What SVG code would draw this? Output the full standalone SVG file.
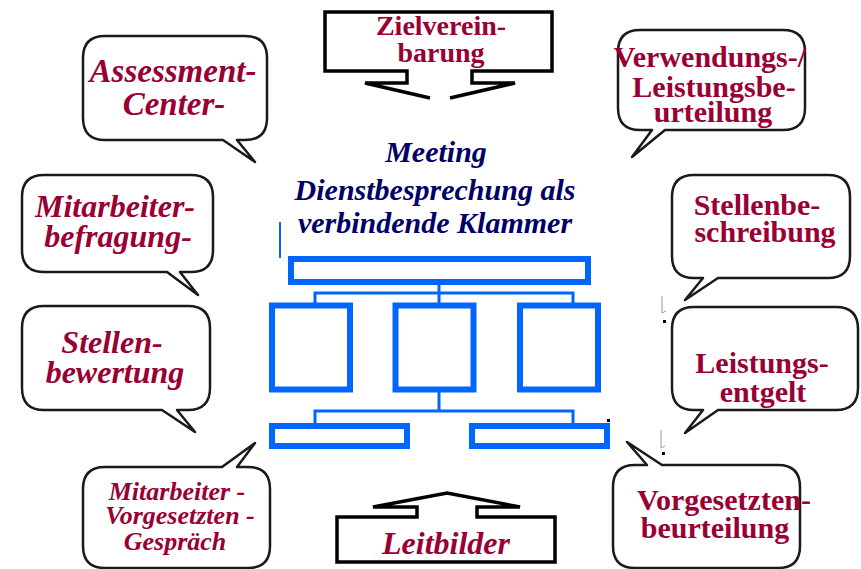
<svg xmlns="http://www.w3.org/2000/svg" width="861" height="569" viewBox="0 0 861 569">
<style>
.bub{fill:#fff;stroke:#1a1a1a;stroke-width:2.5;stroke-linejoin:round}
.arr{fill:#fff;stroke:#000;stroke-width:3.5;stroke-linejoin:miter}
.t{font-family:"Liberation Serif","Times New Roman",serif;font-weight:bold;fill:#990033;text-anchor:middle}
.i{font-style:italic}
.m{font-family:"Liberation Serif","Times New Roman",serif;font-weight:bold;font-style:italic;fill:#000066;text-anchor:middle;font-size:30px}
.org{fill:none;stroke:#0066ff;stroke-width:6}
.con{fill:none;stroke:#0066ff;stroke-width:3}
</style>
<rect width="861" height="569" fill="#fff"/>

<g id="zielvereinbarung">
<path d="M365,83 H407 V71 H325 V12 H552 V71 H472 V83 H515 L450,98 H430 Z" fill="#fff" stroke="none"/>
<polyline class="arr" points="430,98 365,83 407,83 407,71 325,71 325,12 552,12 552,71 472,71 472,83 515,83 450,98"/>
<text class="t" x="441" y="35" font-size="28">Zielverein-</text>
<text class="t" x="441" y="62" font-size="28">barung</text>
</g>

<g id="assessment">
<path class="bub" d="M105,36 H245 Q267,36 267,58 V118 Q267,140 245,140 H237 L255,162 L223,140 H105 Q83,140 83,118 V58 Q83,36 105,36 Z"/>
<text class="t i" x="173" y="82" font-size="33">Assessment-</text>
<text class="t i" x="174" y="115" font-size="33">Center-</text>
</g>

<g id="verwendung">
<path class="bub" d="M640,30 H783 Q805,30 805,52 V108 Q805,130 783,130 H665 L632,157 L652,130 H640 Q618,130 618,108 V52 Q618,30 640,30 Z"/>
<text class="t" x="710" y="67" font-size="30">Verwendungs-/</text>
<text class="t" x="714" y="97" font-size="30">Leistungsbe-</text>
<text class="t" x="713" y="122" font-size="30">urteilung</text>
</g>

<g id="mitarbeiterbefragung">
<path class="bub" d="M44,175 H191 Q213,175 213,197 V250 Q213,272 191,272 H180 L198,295 L167,272 H44 Q22,272 22,250 V197 Q22,175 44,175 Z"/>
<text class="t i" x="115" y="217" font-size="32">Mitarbeiter-</text>
<text class="t i" x="118" y="247" font-size="32">befragung-</text>
</g>

<g id="stellenbeschreibung">
<path class="bub" d="M694,175 H828 Q850,175 850,197 V256 Q850,278 828,278 H718 L685,300 L703,278 H694 Q672,278 672,256 V197 Q672,175 694,175 Z"/>
<text class="t" x="757" y="215" font-size="30">Stellenbe-</text>
<text class="t" x="765" y="242" font-size="30">schreibung</text>
</g>

<g id="stellenbewertung">
<path class="bub" d="M44,306 H188 Q210,306 210,328 V388 Q210,410 188,410 H177 L195,432 L162,410 H44 Q22,410 22,388 V328 Q22,306 44,306 Z"/>
<text class="t i" x="112" y="353" font-size="32">Stellen-</text>
<text class="t i" x="115" y="383" font-size="32">bewertung</text>
</g>

<g id="leistungsentgelt">
<path class="bub" d="M694,307 H836 Q858,307 858,329 V388 Q858,410 836,410 H718 L685,433 L703,410 H694 Q672,410 672,388 V329 Q672,307 694,307 Z"/>
<text class="t" x="762" y="373" font-size="30">Leistungs-</text>
<text class="t" x="763" y="402" font-size="30">entgelt</text>
</g>

<g id="mitarbeitergespraech">
<path class="bub" d="M105,467 H222 L255,443 L237,467 H248 Q270,467 270,489 V546 Q270,568 248,568 H105 Q83,568 83,546 V489 Q83,467 105,467 Z"/>
<text class="t i" x="177" y="500" font-size="26">Mitarbeiter -</text>
<text class="t i" x="180" y="524" font-size="26">Vorgesetzten -</text>
<text class="t i" x="175" y="550" font-size="26">Gespräch</text>
</g>

<g id="vorgesetztenbeurteilung">
<path class="bub" d="M635,465 H647 L627,442 L662,465 H778 Q800,465 800,487 V546 Q800,568 778,568 H635 Q613,568 613,546 V487 Q613,465 635,465 Z"/>
<text class="t" x="724" y="510" font-size="30">Vorgesetzten-</text>
<text class="t" x="715" y="538" font-size="30">beurteilung</text>
</g>

<g id="leitbilder">
<path class="arr" d="M337,517 H417 V507 H373 L447,493 L520,507 H477 V517 H555 V562 H337 Z"/>
<text class="t i" x="446" y="554" font-size="32">Leitbilder</text>
</g>

<g id="meeting">
<text class="m" x="436" y="162">Meeting</text>
<text class="m" x="435" y="200">Dienstbesprechung als</text>
<text class="m" x="435" y="233">verbindende Klammer</text>
</g>

<g id="orgchart">
<rect class="org" x="291" y="259" width="297" height="23"/>
<rect class="org" x="272" y="305.5" width="78" height="84"/>
<rect class="org" x="395.5" y="305.5" width="78" height="84"/>
<rect class="org" x="520" y="305.5" width="78" height="84"/>
<rect class="org" x="272" y="426" width="135" height="20"/>
<rect class="org" x="472" y="426" width="135" height="20"/>
</g>

<g id="connectors">
<path class="con" d="M439,285 V303 M315,303 V293 H573 V303"/>
<path class="con" d="M439,392 V411 M315,423 V411 H573 V423"/>
<line x1="280" y1="222" x2="280" y2="258" stroke="#0066ff" stroke-width="2"/>
</g>

<g id="marks" fill="none" stroke="#999" stroke-width="1">
<path d="M662,296 V313 L666,311"/>
<path d="M661,430 V448 L665,446"/>
<rect x="663" y="320" width="3" height="3" fill="#000" stroke="none"/>
<rect x="662" y="452" width="3" height="3" fill="#000" stroke="none"/>
<rect x="607" y="419" width="3" height="3" fill="#000" stroke="none"/>
</g>
</svg>
